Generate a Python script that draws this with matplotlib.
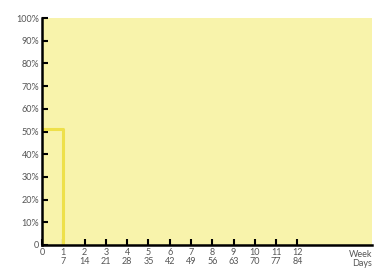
import matplotlib
matplotlib.use("Agg")
import matplotlib.pyplot as plt

weeks = [0, 1, 2, 3, 4, 5, 6, 7, 8, 9, 10, 11, 12]
days = ["", "7", "14", "21", "28", "35", "42", "49", "56", "63", "70", "77", "84"]
step_x = [0, 1, 1]
step_y = [51, 51, 0]
y_ticks = [0, 10, 20, 30, 40, 50, 60, 70, 80, 90, 100]
y_labels = ["0"] + [f"{v}%" for v in y_ticks[1:]]

plt.rcParams['font.family'] = ['Lato', 'DejaVu Sans']
fig = plt.figure(figsize=(3.76, 2.69), dpi=100)
ax = fig.add_axes([42 / 376, 24 / 269, 330 / 376, 227 / 269])

xmax = 15.5
ax.fill_between([0, xmax], 0, 101.5, color="#f8f3ab", lw=0, zorder=0)
ax.plot(step_x, step_y, color="#eee04a", lw=2.2, zorder=2)

ax.set_xlim(0, xmax)
ax.set_ylim(0, 100)
ax.set_xticks(weeks)
ax.set_xticklabels([f"{w}\n{d}" for w, d in zip(weeks, days)],
                   fontsize=6.5, color="#555555", linespacing=1.0)
ax.set_yticks(y_ticks)
ax.set_yticklabels(y_labels, fontsize=6.5, color="#555555")
ax.tick_params(axis="both", direction="in", length=4, width=1.5, color="black", pad=2)
ax.tick_params(axis="y", pad=2)
ax.text(xmax, -2, "Week\nDays", ha="right", va="top", fontsize=6.5,
        color="#555555", linespacing=1.0)

for s in ["top", "right"]:
    ax.spines[s].set_visible(False)
for s in ["left", "bottom"]:
    ax.spines[s].set_linewidth(1.8)
    ax.spines[s].set_color("black")
ax.spines["left"].set_bounds(0, 100)

fig.savefig("out.png", dpi=100)
